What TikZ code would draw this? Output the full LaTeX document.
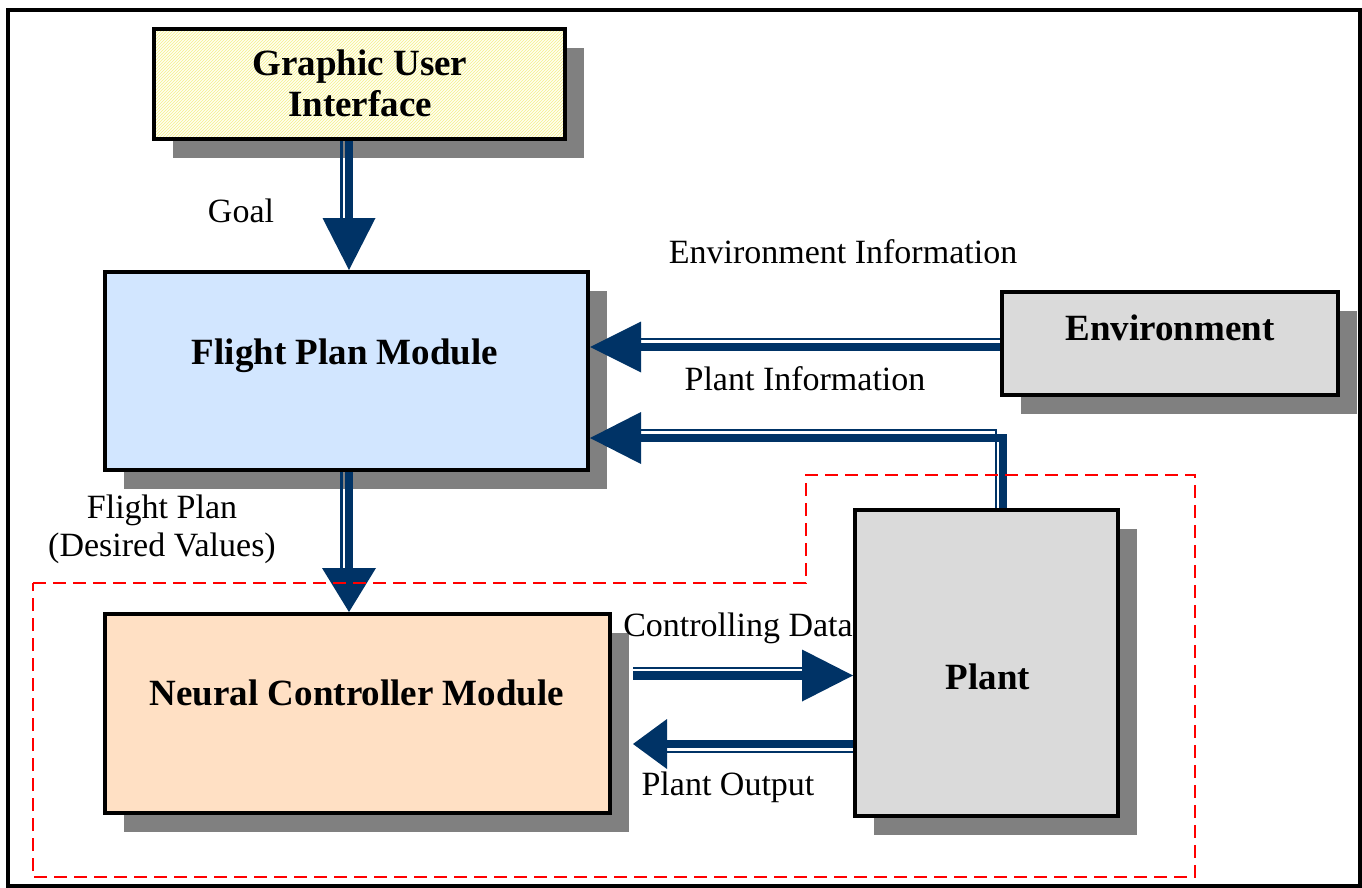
\documentclass[tikz,border=0pt]{standalone}
\usepackage{fontspec}
\setmainfont{Liberation Serif}
\usetikzlibrary{arrows.meta,shadows,patterns}
\definecolor{navy}{HTML}{003366}
\definecolor{guifill}{HTML}{FFFFF2}
\definecolor{guiline}{HTML}{F5F08A}
\definecolor{fpmfill}{HTML}{D2E6FF}
\definecolor{ncmfill}{HTML}{FFE0C4}
\definecolor{grayfill}{HTML}{DADADA}
\definecolor{shadowgray}{HTML}{808080}
\tikzset{
  modbox/.style={draw=black, line width=4pt, inner sep=0pt, outer sep=2pt,
    drop shadow={shadow xshift=19pt, shadow yshift=-19pt, opacity=1, fill=shadowgray}},
  boxtext/.style={font=\fontsize{37pt}{40pt}\selectfont\bfseries, inner sep=0pt, anchor=base},
  lbl/.style={font=\fontsize{34pt}{38pt}\selectfont, inner sep=0pt, anchor=base},
  thickshaft/.style={draw=navy, line width=8.5pt, line join=miter},
  thinshaft/.style={draw=navy, line width=2.5pt, line join=miter},
  headtip/.style 2 args={-{Triangle[length=#1pt, width=#2pt, line width=0pt]}},
  region/.style={draw=red, line width=2pt, dash pattern=on 13pt off 7pt}
}
\begin{document}
\begin{tikzpicture}[x=1pt, y=-1pt]
\useasboundingbox (0,0) rectangle (1362,888);
\draw[line width=3.5pt] (8,10) rectangle (1360,886);

% modules
\node[modbox, fill=guifill, minimum width=411pt, minimum height=110pt,
  postaction={pattern=north east lines, pattern color=guiline},
  postaction={draw=black, line width=4pt}] (gui) at (359.5,84) {};
\node[modbox, fill=fpmfill, minimum width=483pt, minimum height=198pt] (fpm) at (346.5,371) {};
\node[modbox, fill=grayfill, minimum width=336pt, minimum height=103pt] (env) at (1170,343.5) {};
\node[modbox, fill=grayfill, minimum width=263pt, minimum height=306pt] (plant) at (986.5,663) {};
\node[modbox, fill=ncmfill, minimum width=505pt, minimum height=199pt] (ncm) at (357.5,713.5) {};

% Goal
\draw[thickshaft, headtip={52}{53}] ([xshift=-10.5pt]gui.south) -- ([xshift=2.5pt]fpm.north);
\draw[thinshaft] ([xshift=-18pt]gui.south) -- ([xshift=-5pt, yshift=48pt]fpm.north);
% Flight plan
\draw[thickshaft, headtip={44}{54}] ([xshift=2.5pt]fpm.south) -- ([xshift=-8.5pt]ncm.north);
\draw[thinshaft] ([xshift=-5pt]fpm.south) -- ([xshift=-16pt, yshift=40pt]ncm.north);
% Environment information
\draw[thickshaft, headtip={51}{51}] ([yshift=-3.5pt]env.west) -- ([yshift=24pt]fpm.east);
\draw[thinshaft] ([yshift=4.5pt]env.west) -- ([xshift=48pt, yshift=32pt]fpm.east);
% Plant information
\draw[thickshaft, headtip={51}{52}] ([xshift=16.5pt]plant.north) |- ([yshift=-67pt]fpm.east);
\draw[thinshaft] ([xshift=9.5pt]plant.north) |- ([xshift=48pt, yshift=-59pt]fpm.east);
% Controlling data
\draw[thickshaft, headtip={51}{52}] ([xshift=21pt, yshift=38pt]ncm.east) -- ([yshift=-12.5pt]plant.west);
\draw[thinshaft] ([xshift=21pt, yshift=45.5pt]ncm.east) -- ([xshift=-48pt, yshift=-5pt]plant.west);
% Plant output
\draw[thickshaft, headtip={34}{50}] ([yshift=-81pt]plant.west) -- ([xshift=21pt, yshift=-30.5pt]ncm.east);
\draw[thinshaft] ([yshift=-89pt]plant.west) -- ([xshift=52pt, yshift=-38.5pt]ncm.east);

% controller region
\draw[region] (33,583) -- (806,583) -- (806,475) -- (1195,475) -- (1195,877) -- (33,877) -- cycle;

% box texts
\node[boxtext] (guit1) at (360,76) {Graphic User};
\node[boxtext] (guit2) at (360,117) {Interface};
\node[boxtext] (fpmt) at (345,364) {Flight Plan Module};
\node[boxtext] (envt) at (1170,340) {Environment};
\node[boxtext] (plantt) at (988,689) {Plant};
\node[boxtext] (ncmt) at (357,705) {Neural Controller Module};

% labels
\node[lbl] (goal) at (241,222) {Goal};
\node[lbl] (envinfo) at (843,263) {Environment Information};
\node[lbl] (plantinfo) at (805,390) {Plant Information};
\node[lbl] (fplan1) at (162,518) {Flight Plan};
\node[lbl] (fplan2) at (162,556) {(Desired Values)};
\node[lbl] (ctrl) at (738,636) {Controlling Data};
\node[lbl] (pout) at (728,795) {Plant Output};
\end{tikzpicture}
\end{document}
